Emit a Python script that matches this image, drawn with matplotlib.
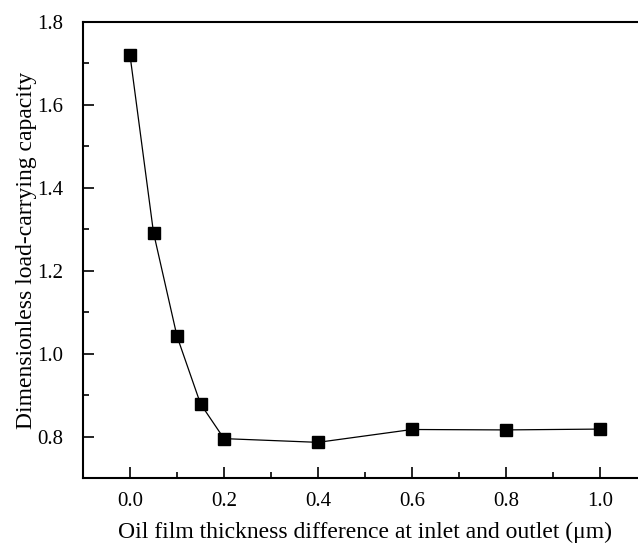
import numpy as np
import matplotlib.pyplot as plt
from matplotlib.ticker import MultipleLocator

# thickness difference (um) and dimensionless load-carrying capacity
dh = [0.0, 0.05, 0.1, 0.15, 0.2, 0.4, 0.6, 0.8, 1.0]
load = [1.72, 1.292, 1.042, 0.879, 0.795, 0.786, 0.817, 0.816, 0.818]

plt.rcParams['font.family'] = ['Liberation Serif', 'DejaVu Serif']
plt.rcParams['mathtext.fontset'] = 'stix'

fig = plt.figure(figsize=(6.38, 5.44), dpi=100)
ax = fig.add_axes([83/638, 1-478/544, 564/638, 456/544])

ax.plot(dh, load, color='black', lw=0.9, marker='s', ms=8,
        markerfacecolor='black', markeredgecolor='black')

ax.set_xlim(-0.1, 1.1)
ax.set_ylim(0.7, 1.8)
ax.xaxis.set_minor_locator(MultipleLocator(0.1))
ax.yaxis.set_minor_locator(MultipleLocator(0.1))
ax.set_xticks([0.0, 0.2, 0.4, 0.6, 0.8, 1.0])
ax.set_yticks([0.8, 1.0, 1.2, 1.4, 1.6, 1.8])
ax.tick_params(which='both', direction='in', top=False, right=False,
               labelsize=15, width=1.2)
ax.tick_params(which='major', length=8)
ax.tick_params(axis='y', which='major', pad=14)
ax.tick_params(axis='x', which='major', pad=10)
ax.tick_params(which='minor', length=4)
for s in ax.spines.values():
    s.set_linewidth(1.5)

ax.set_xlabel('Oil film thickness difference at inlet and outlet (μm)',
              fontsize=17)
ax.set_ylabel('Dimensionless load-carrying capacity', fontsize=17)
ax.xaxis.set_label_coords(0.5, -0.097)
ax.yaxis.set_label_coords(-0.082, 0.5)

fig.savefig('out.png', dpi=100)
